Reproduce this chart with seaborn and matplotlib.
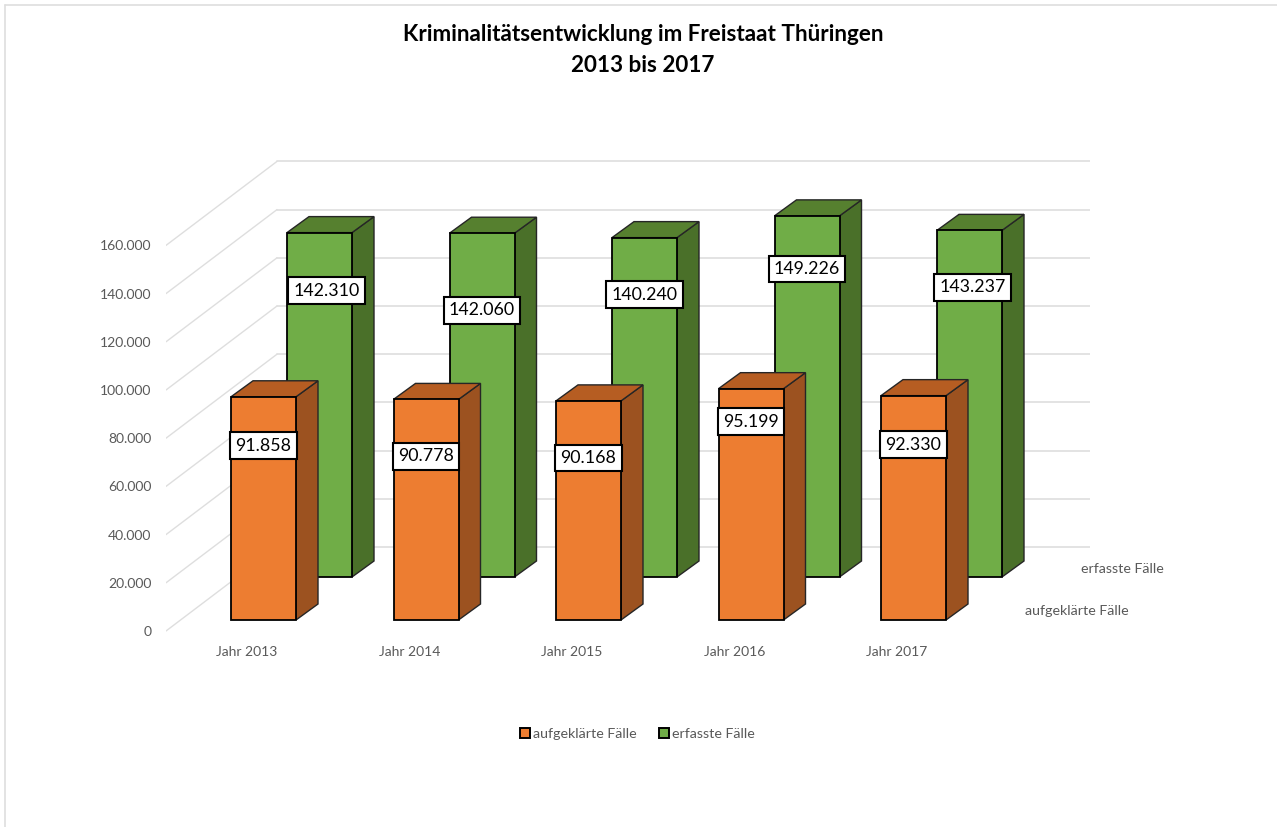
import numpy as np
import pandas as pd
import matplotlib
matplotlib.use("Agg")
import matplotlib.pyplot as plt
from matplotlib.lines import Line2D
from matplotlib.patches import Patch, Polygon
import seaborn as sns

# ---- data ----
years = ["Jahr 2013", "Jahr 2014", "Jahr 2015", "Jahr 2016", "Jahr 2017"]
aufgeklaert = [91858, 90778, 90168, 95199, 92330]
erfasst = [142310, 142060, 140240, 149226, 143237]
series_names = ["aufgeklärte Fälle", "erfasste Fälle"]
value_ticks = [0, 20000, 40000, 60000, 80000, 100000, 120000, 140000, 160000]
title_text = "Kriminalitätsentwicklung im Freistaat Thüringen\n2013 bis 2017"

# ---- layout (pixels of the 1277x827 canvas) ----
W, H = 1277, 827
SCALE_WALL = 0.00241
SCALE_BACK = 0.00242
SCALE_FRONT = 0.00243
CAT_STEP = 162.5
BAR_PX = 65
DEPTH_X, DEPTH_Y = 22, 16
label_dx_front = [0, 0, 0, 0, 0]
label_dy_front = [49, 57, 57, 33, 49]
label_dx_back = [7, 0, 0, 0, 3]
label_dy_back = [58, 77, 57, 53, 57]

C_TEXT = "#595959"
C_GRID = "#dedede"

sns.set_theme(style="white")
plt.rcParams["font.family"] = ["Lato", "DejaVu Sans"]
fig = plt.figure(figsize=(W / 100, H / 100), dpi=100, facecolor="white")


def bar_layer(zero_px, z):
    ax = fig.add_axes([0, 1 - zero_px / H, 1, zero_px / H], zorder=z)
    ax.patch.set_alpha(0)
    return ax


def fix_limits(ax, zero_px, first_center_px, scale):
    ax.set_xlim(-first_center_px / CAT_STEP, (W - first_center_px) / CAT_STEP)
    ax.set_ylim(0, zero_px / scale)
    ax.set_ylabel("")
    ax.set_xlabel("")
    sns.despine(ax=ax, left=True, bottom=True)
    ax.set_yticks([])


def draw_series(ax, values, front, side, top, zero_px, center_px, scale, dxs, dys):
    frame = pd.DataFrame({"year": years, "value": values})
    sns.barplot(data=frame, x="year", y="value", ax=ax, color=front, saturation=1,
                width=BAR_PX / CAT_STEP, edgecolor="black", linewidth=1.3, zorder=3)
    fix_limits(ax, zero_px, center_px, scale)
    ddx = DEPTH_X / CAT_STEP
    ddy = DEPTH_Y / scale
    for bar, dx, dy, value in zip(ax.patches, dxs, dys, values):
        bar.set_clip_on(False)
        l, r, h = bar.get_x(), bar.get_x() + bar.get_width(), bar.get_height()
        ax.add_patch(Polygon([(r, 0), (r + ddx, ddy), (r + ddx, h + ddy), (r, h)], closed=True,
                             facecolor=side, edgecolor="#262626", linewidth=1.0, zorder=2))
        ax.add_patch(Polygon([(l, h), (l + ddx, h + ddy), (r + ddx, h + ddy), (r, h)], closed=True,
                             facecolor=top, edgecolor="#262626", linewidth=1.0, zorder=2))
        label = f"{value:,}".replace(",", ".")
        ax.annotate(label, xy=(l + bar.get_width() / 2, h),
                    xytext=(dx * 0.72, -dy * 0.72), textcoords="offset points",
                    ha="center", va="center", fontsize=12.8, color="black", zorder=5,
                    bbox=dict(boxstyle="square,pad=0.3", facecolor="white",
                              edgecolor="black", linewidth=1.5))


# ---- walls and value axis ----
wall = fig.add_axes([166 / W, 0, (1090 - 166) / W, 1], zorder=1)
wall.patch.set_alpha(0)
wall.set_xlim(0, 1090 - 166)
wall.set_ylim((631 - H) / SCALE_WALL, 631 / SCALE_WALL)
sns.despine(ax=wall, left=True, bottom=True)
wall.set_xticks([])
wall.set_yticks(value_ticks)
wall.set_yticklabels([f"{v:,}".replace(",", ".") for v in value_ticks], fontsize=10, color=C_TEXT)
wall.tick_params(axis="y", length=0, pad=10.5)
rise = 84 / SCALE_WALL
for v in value_ticks:
    sns.lineplot(x=[0, 111], y=[v, v + rise], ax=wall, color=C_GRID, linewidth=1.0, sort=False)
    sns.lineplot(x=[111, 1090 - 166], y=[v + rise, v + rise], ax=wall, color=C_GRID, linewidth=1.2, sort=False)
wall.set_xlabel("")
wall.set_ylabel("")

# ---- back row, then front row ----
back = bar_layer(577, 2)
draw_series(back, erfasst, "#70AD47", "#4A7029", "#56802F", 577, 319.5, SCALE_BACK, label_dx_back, label_dy_back)
back.set_xticks([])

front = bar_layer(620, 3)
draw_series(front, aufgeklaert, "#ED7D31", "#9C5220", "#B65D22", 620, 263.5, SCALE_FRONT, label_dx_front, label_dy_front)
front.set_xticks(np.arange(len(years)) - 16.5 / CAT_STEP)
front.set_xticklabels(years, fontsize=10, color=C_TEXT)
front.tick_params(axis="x", length=0, pad=18.5)

# ---- depth-axis labels ----
fig.text(1025 / W, 1 - 611 / H, series_names[0], fontsize=10.3, color=C_TEXT, ha="left", va="center")
fig.text(1081 / W, 1 - 569 / H, series_names[1], fontsize=10.3, color=C_TEXT, ha="left", va="center")

# ---- legend ----
handles = [Patch(facecolor="#ED7D31", edgecolor="black", linewidth=1.4, label=series_names[0]),
           Patch(facecolor="#70AD47", edgecolor="black", linewidth=1.4, label=series_names[1])]
fig.legend(handles=handles, ncol=2, loc="center", bbox_to_anchor=(637.5 / W, 1 - 734 / H),
           frameon=False, fontsize=10.3, labelcolor=C_TEXT, handlelength=0.68, handleheight=0.72,
           handletextpad=0.2, columnspacing=1.6)

# ---- title ----
fig.text(643 / W, 1 - 50 / H, title_text, fontsize=16.2, fontweight="bold", color="black",
         ha="center", va="center", linespacing=1.55)

# ---- outer chart frame ----
fig.add_artist(Line2D([5 / W, 5 / W], [0, 1 - 5 / H], color=C_GRID, linewidth=1.2))
fig.add_artist(Line2D([5 / W, 1], [1 - 5 / H, 1 - 5 / H], color=C_GRID, linewidth=1.2))

fig.savefig("out.png", dpi=100, facecolor="white")
